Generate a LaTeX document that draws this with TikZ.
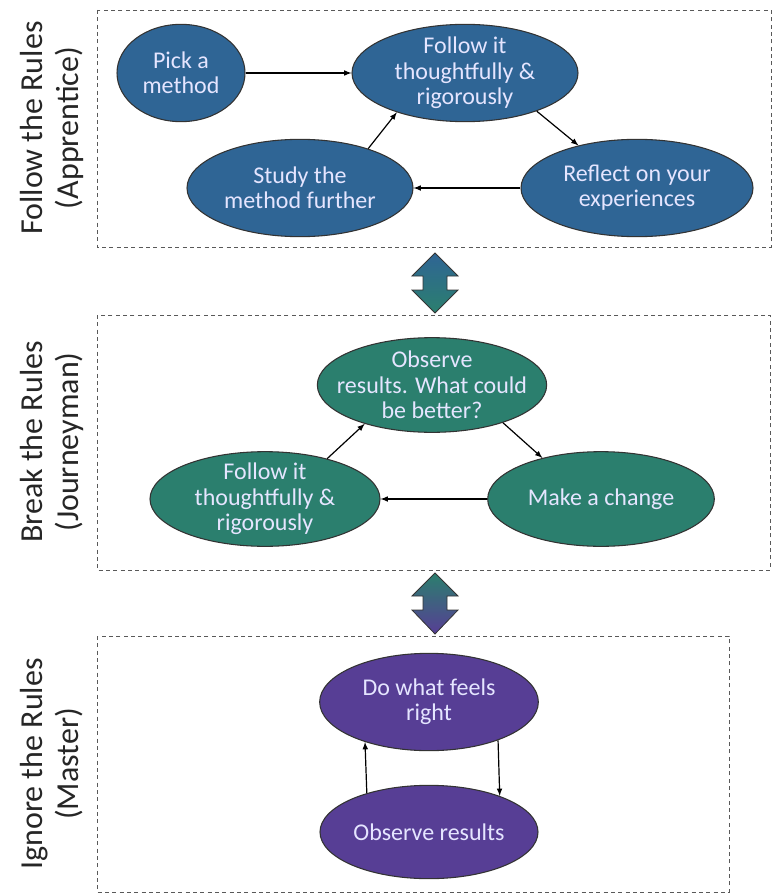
\documentclass[tikz,border=0pt]{standalone}
\usepackage{fontspec}
\setmainfont{Carlito}
\usetikzlibrary{shapes.geometric}
\definecolor{apprblue}{HTML}{2F6595}
\definecolor{journgreen}{HTML}{2B7F6E}
\definecolor{mastpurple}{HTML}{573E95}
\tikzset{
  stage/.style={ellipse,draw=black!80,line width=0.8pt,text=white!90!blue,align=center,inner xsep=-15pt,inner ysep=-4pt,font=\fontsize{18}{19}\selectfont},
  frame/.style={draw=black!65,line width=0.6pt,dash pattern=on 3pt off 2.5pt},
  flow/.style={-latex,line width=0.9pt},
  lvl/.style={rotate=90,align=center,text=black!85,font=\fontsize{24}{27}\selectfont}
}
\begin{document}
\begin{tikzpicture}[x=0.75pt,y=-0.75pt]
				\useasboundingbox (0,0) rectangle (773,895);
				% level frames
				\draw[frame] (97,10) rectangle (771,247);
				\draw[frame] (97,315) rectangle (770,570);
				\draw[frame] (97,636) rectangle (729,892);
				\node[lvl] (apprentice) at (52,128) {Follow the Rules\\(Apprentice)};
				\node[lvl] (journeyman) at (52,442) {Break the Rules\\(Journeyman)};
				\node[lvl] (master) at (52,764) {Ignore the Rules\\(Master)};
				% apprentice
				\node[stage,fill=apprblue,minimum width=96pt,minimum height=73pt] (pick) at (181,73) {Pick a\\method};
				\node[stage,fill=apprblue,minimum width=169.5pt,minimum height=73pt] (follow) at (465,73) {Follow it\\thoughtfully \&\\rigorously};
				\node[stage,fill=apprblue,minimum width=174pt,minimum height=73pt] (reflect) at (637,188) {Reflect on your\\experiences};
				\node[stage,fill=apprblue,minimum width=169.5pt,minimum height=73pt] (study) at (300,188) {Study the\\method further};
				\draw[flow] (pick)--(follow);
				\draw[flow] (follow.332)--(reflect.144);
				\draw[flow] (reflect)--(study);
				\draw[flow] (study.30)--(follow.210);
				% journeyman
				\node[stage,fill=journgreen,minimum width=172pt,minimum height=71pt] (observe) at (432,385) {Observe\\results. What could\\be better?};
				\node[stage,fill=journgreen,minimum width=172.5pt,minimum height=71pt] (followj) at (265,499) {Follow it\\thoughtfully \&\\rigorously};
				\node[stage,fill=journgreen,minimum width=170pt,minimum height=71pt] (change) at (601,499) {Make a change};
				\draw[flow] (observe.332)--(change.145);
				\draw[flow] (change)--(followj);
				\draw[flow] (followj.33)--(observe.210);
				% master
				\node[stage,fill=mastpurple,minimum width=164pt,minimum height=73pt] (feel) at (429,702) {Do what feels\\right};
				\node[stage,fill=mastpurple,minimum width=163.5pt,minimum height=70pt] (results) at (429,832) {Observe results};
				\draw[flow] (results.148.4)--(feel.212.8);
				\draw[flow] (feel.331.4)--(results.27.5);
				% double arrows between levels
				\shade[top color=apprblue,bottom color=journgreen,draw=black!80,line width=0.6pt] (435,253)--(458,276)--(447,276)--(447,290)--(458,290)--(435,313)--(412,290)--(423,290)--(423,276)--(412,276)--cycle;
				\shade[top color=journgreen,bottom color=mastpurple,draw=black!80,line width=0.6pt] (435,573)--(458,596)--(447,596)--(447,610)--(458,610)--(435,634)--(412,610)--(423,610)--(423,596)--(412,596)--cycle;
			\end{tikzpicture}
\end{document}
